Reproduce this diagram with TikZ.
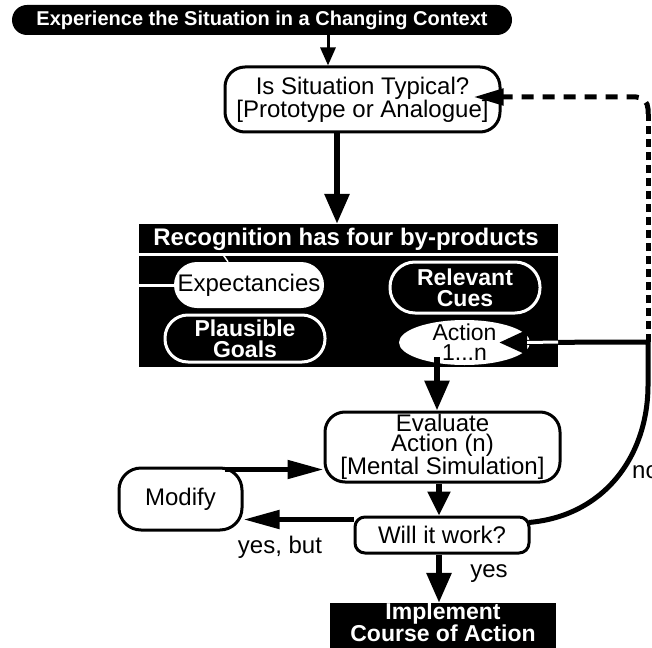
\documentclass[tikz,border=0pt]{standalone}
\usepackage{fontspec}
\setmainfont{Liberation Sans}
\usetikzlibrary{arrows.meta,shapes.geometric,calc}
\begin{document}
\begin{tikzpicture}[x=1pt,y=-1pt,
  txt/.style={font=\fontsize{24}{19.5}\selectfont, align=center, inner sep=0pt},
  btxt/.style={font=\fontsize{24}{19.5}\selectfont\bfseries, align=center, inner sep=0pt, text=white},
  stepbox/.style={draw, line width=3pt, fill=white, rounded corners=#1},
  outlined/.style={draw=white, line width=3pt, fill=black, rounded corners=#1},
  bigarrow/.style={line width=6pt, -{Triangle[length=30pt,width=24pt]}},
  midarrow/.style={line width=5.5pt, -{Triangle[length=24pt,width=22pt]}},
  slimarrow/.style={line width=5pt, -{Triangle[length=36pt,width=18pt]}},
]
\useasboundingbox (0,0) rectangle (652,647);

% title banner
\node[btxt, font=\fontsize{20}{20}\selectfont\bfseries, fill=black, rounded corners=15pt,
  minimum width=500pt, minimum height=30pt] (ctx) at (262,20)
  {Experience the Situation in a Changing Context};

% typicality check
\node[stepbox=20pt, txt, minimum width=275pt, minimum height=65pt] (typ) at (362.5,99.5)
  {Is Situation Typical?\\{[}Prototype or Analogue{]}};

% recognition panel
\node[fill=black, minimum width=419pt, minimum height=143pt, inner sep=0pt] (rec) at (348.5,295.5) {};
\node[btxt] (rech) at (346,239) {Recognition has four by-products};
\draw[white, line width=3pt] ($(rec.north west)+(0,30.5)$) coordinate (hl) -- ($(rec.north east)+(0,30.5)$);

\node[txt, fill=white, rounded corners=23pt, minimum width=150pt, minimum height=46pt] (expc) at (249,285) {Expectancies};
\node[btxt, font=\fontsize{23}{21}\selectfont\bfseries, outlined=25pt, minimum width=150pt, minimum height=51pt]
  (cues) at (465,287.5) {Relevant\\Cues};
\node[btxt, font=\fontsize{23}{21}\selectfont\bfseries, outlined=23pt, minimum width=160pt, minimum height=47pt]
  (goal) at (245,338.5) {Plausible\\Goals};
\node[ellipse, fill=white, inner sep=0pt, minimum width=131pt, minimum height=45pt] (act) at (464.5,342.5) {};
\node[txt, font=\fontsize{23}{20}\selectfont] (actl) at (act.center) {Action\\1...n};

\draw[white, line width=3pt] (rec.west |- expc.west) -- (expc.west);
\coordinate (d1) at ([shift={(84,0)}]hl);
\coordinate (d2) at ([shift={(-21,0)}]expc.north);
\draw[white, line width=1.5pt] (d1) -- (d2);

% evaluation loop
\node[stepbox=20pt, txt, minimum width=235pt, minimum height=70pt] (eval) at (442.5,447)
  {Evaluate\\Action (n)\\{[}Mental Simulation{]}};
\node[stepbox=22pt, txt, minimum width=123pt, minimum height=62pt] (mod) at (180.5,499) {Modify};
\node[stepbox=10pt, txt, minimum width=174pt, minimum height=36pt] (will) at (442,535) {Will it work?};
\node[fill=black, inner sep=0pt, minimum width=226pt, minimum height=50pt] (impl) at (443,628) {};
\node[btxt, font=\fontsize{23}{20}\selectfont\bfseries] (impll) at (443,622) {Implement\\Course of Action};

% labels
\node[txt, anchor=base west] (nolab) at (632,478) {no};
\node[txt, anchor=base] (yb) at (280,553) {yes, but};
\node[txt, anchor=base] (yl) at (489,577) {yes};

% connectors
\coordinate (t0) at ([shift={(-34.5,0)}]typ.north);
\draw[line width=3pt, -{Triangle[length=18pt,width=15pt]}] (t0 |- ctx.south) -- (t0);

\coordinate (a1) at ([shift={(-25.5,0)}]typ.south);
\draw[bigarrow] (a1) -- (a1 |- rec.north);

\coordinate (a2) at ([shift={(-27.5,-8)}]act.south);
\draw[bigarrow] (a2) -- (a2 |- eval.north);

\coordinate (a3) at ([shift={(-3.5,0)}]eval.south);
\draw[midarrow] (a3) -- (a3 |- will.north);

\coordinate (a4) at ([shift={(-3,0)}]will.south);
\draw[bigarrow] (a4) -- (a4 |- impl.north);

\coordinate (a5) at ([shift={(-19,3)}]mod.north east);
\draw[slimarrow] (a5) -- (a5 -| eval.west);

\coordinate (a6) at ([shift={(0,4)}]will.north west);
\draw[slimarrow] (a6) -- (a6 -| mod.east);

% "no" branch back to the action options
\coordinate (a7) at ([shift={(-2,7)}]will.north east);
\coordinate (nc) at (648,342);
\coordinate (acttip) at ([shift={(-31,0)}]act.east);
\draw[line width=5pt, -{Triangle[length=28pt,width=24pt]}]
  (a7) .. controls (605,516) and (648,455) .. (648,385) -- (nc) -- (acttip);
\draw[white, line width=3pt] (rec.east |- nc) -- ([shift={(-3,0)}]act.east);

% dashed return to the typicality check
\coordinate (cv) at (648,114);
\coordinate (dtip) at ([shift={(-28,-2.5)}]typ.east);
\draw[line width=5pt, dash pattern=on 8pt off 5pt] (nc) -- (cv);
\draw[line width=5pt, dash pattern=on 12pt off 9pt, rounded corners=12pt,
  -{Triangle[length=30pt,width=16pt]}] (cv) |- (dtip);
\end{tikzpicture}
\end{document}
